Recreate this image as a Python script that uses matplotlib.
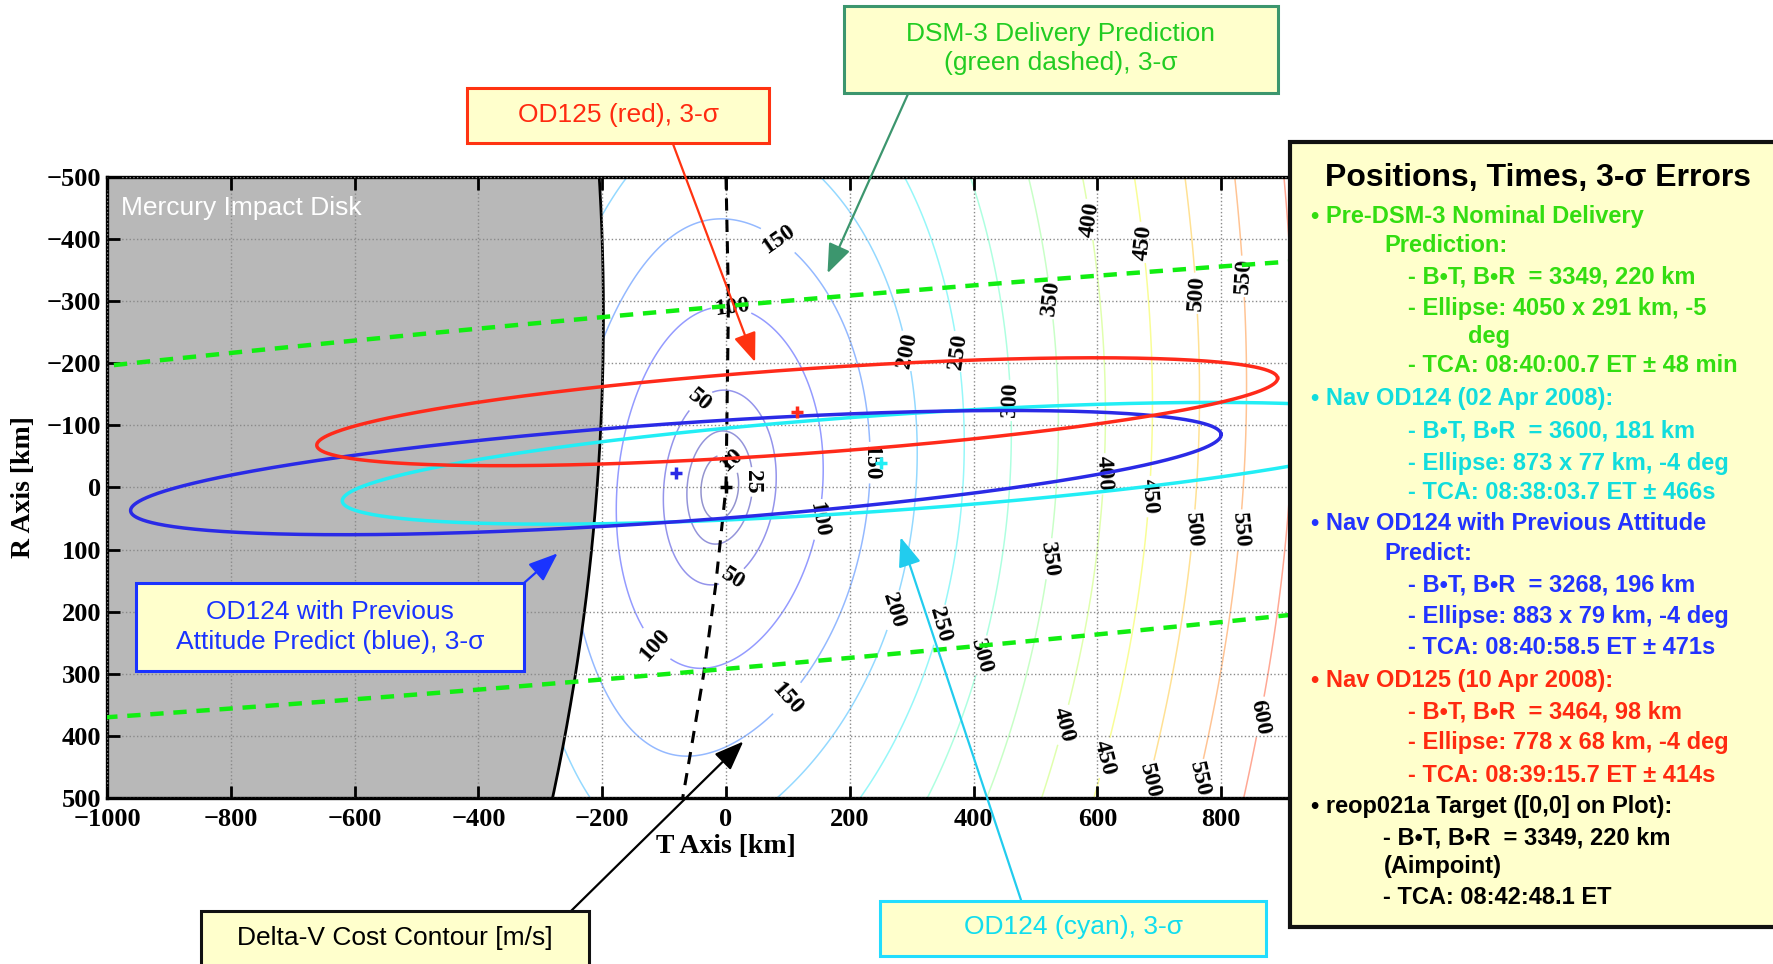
import numpy as np
import matplotlib
matplotlib.use('Agg')
import matplotlib.pyplot as plt
from matplotlib.patches import Rectangle

W, H = 1773, 964

# B-plane aimpoint (reop021a target), plotted at [0,0]
target_bt, target_br = 3349, 220
target_tca = '08:42:48.1'

# orbit solutions: B.T, B.R, 3-sigma ellipse (semi-major, semi-minor, angle), TCA
sol_bt = [3349, 3600, 3268, 3464]
sol_br = [220, 181, 196, 98]
sol_smaa = [4050, 873, 883, 778]
sol_smia = [291, 77, 79, 68]
sol_theta = [-5, -4, -4, -4]
sol_tca = ['08:40:00.7', '08:38:03.7', '08:40:58.5', '08:39:15.7']
sol_tca_err = ['48 min', '466s', '471s', '414s']
sol_line = ['#11ee11', '#22eef5', '#2a2ae6', '#ff2a1a']
sol_text = ['#33dd11', '#11dddd', '#2233ff', '#ff2a10']

# delta-v cost contour levels [m/s]
cost_levels = [10, 25, 50, 100, 150, 200, 250, 300, 350, 400, 450, 500, 550, 600]

# Mercury impact disk in plot coordinates [km]
disk_t, disk_r, disk_radius = -3902, -276, 3704

# dashed line through the cost-contour minimum
dash_r = [-500, -300, 0, 160, 300, 425, 500]
dash_t = [0, 4, 0, -17, -36, -57, -70]

# contour label spots [T, R]
label_spots = [(0, -38), (40, -9), (-40, -138), (8, 142), (9, -291), (147, 51),
               (-128, 265), (86, -401), (232, -40), (99, 340), (287, -219),
               (268, 197), (374, -219), (356, 224), (457, -140), (411, 270),
               (524, -304), (524, 115), (588, -432), (610, -22), (533, 379),
               (676, -395), (689, 15), (606, 434), (762, -313), (758, 69),
               (676, 470), (835, -340), (835, 69), (752, 467), (866, 370)]


def delta_v(T, R):
    # approximate cost surface: sheared elliptical bowl around the aimpoint
    shift = -10 - 0.065 * R - 1.37e-4 * R ** 2 * np.exp(-(T / 300.0) ** 2)
    u = (T - shift) / 1.51
    w = (R / 2.6) / np.sqrt(1 + (R / 1515.0) ** 2)
    return np.hypot(u, w) - 10


def ellipse(tc, rc, a, b, theta, n=3000):
    t = np.linspace(0, 2 * np.pi, n)
    th = np.radians(theta)
    x = tc + a * np.cos(t) * np.cos(th) - b * np.sin(t) * np.sin(th)
    y = rc + a * np.cos(t) * np.sin(th) + b * np.sin(t) * np.cos(th)
    return x, y


def fx(px):
    return px / W


def fy(py):
    return 1 - py / H


plt.rcParams['font.family'] = 'Liberation Serif'
plt.rcParams['font.weight'] = 'bold'
plt.rcParams['axes.labelweight'] = 'bold'

fig = plt.figure(figsize=(W / 100, H / 100), dpi=100)
ax = fig.add_axes([107 / W, 1 - 798 / H, 1238 / W, 621 / H])

# cost contours
tg = np.linspace(-1000, 1000, 500)
rg = np.linspace(-500, 500, 300)
TT, RR = np.meshgrid(tg, rg)
cs = ax.contour(TT, RR, delta_v(TT, RR), levels=cost_levels, cmap='jet',
                vmin=0, vmax=700, linewidths=1.1, alpha=0.42, zorder=1)
labels = ax.clabel(cs, manual=label_spots, inline=True, fmt='%d', fontsize=17,
                   inline_spacing=3, colors='k')
for lab in labels:
    lab.set_alpha(1)

# impact disk
rr = np.linspace(-520, 520, 300)
edge_t = disk_t + np.sqrt(disk_radius ** 2 - (rr - disk_r) ** 2)
ax.fill_betweenx(rr, -1100, edge_t, color='#b8b8b8', zorder=1.5, lw=0)
ax.plot(edge_t, rr, color='k', lw=2, zorder=1.6)

ax.plot(dash_t, dash_r, color='k', lw=2.2, ls=(0, (4, 3)), zorder=3)

# 3-sigma error ellipses
for i in range(len(sol_bt)):
    tc = sol_bt[i] - target_bt
    rc = sol_br[i] - target_br
    ex, ey = ellipse(tc, rc, sol_smaa[i], sol_smia[i], sol_theta[i])
    if i == 0:
        ax.plot(ex, ey, color=sol_line[i], lw=3.2, ls=(0, (3, 2.2)), zorder=4)
    else:
        ax.plot(ex, ey, color=sol_line[i], lw=2.5, zorder=4 + i)
        ax.plot(tc, rc, marker='+', ms=9, mew=2.5, color=sol_line[i], zorder=9)
ax.plot(0, 0, marker='+', ms=9, mew=2.5, color='k', zorder=9)

ax.set_xlim(-1000, 1000)
ax.set_ylim(500, -500)
ax.set_xticks(range(-1000, 1001, 200))
ax.set_yticks(range(-500, 501, 100))
ax.set_axisbelow(False)
ax.grid(True, linestyle=':', color='#8a8a8a', lw=1.0)
ax.tick_params(direction='in', length=9, width=2, top=True, right=True,
               labelsize=19)
ax.tick_params(axis='x', pad=7)
ax.tick_params(axis='y', pad=4)
for sp in ax.spines.values():
    sp.set_linewidth(2.4)
ax.set_xlabel('T Axis [km]', fontsize=20)
ax.set_ylabel('R Axis [km]', fontsize=20)
ax.xaxis.set_label_coords(0.5, -0.058)
ax.yaxis.set_label_coords(-0.057, 0.5)

fig.text(fx(121), fy(208), 'Mercury Impact Disk', color='white', fontsize=19,
         family='Liberation Sans', weight='normal', va='center')


def box(x0, y0, x1, y1, edge, lw=2.2):
    fig.add_artist(Rectangle((fx(x0), fy(y1)), fx(x1) - fx(x0), fy(y0) - fy(y1),
                             transform=fig.transFigure, facecolor='#ffffcc',
                             edgecolor=edge, lw=lw, zorder=5))


def box_text(cx, cy, s, color):
    fig.text(fx(cx), fy(cy), s, ha='center', va='center', color=color,
             fontsize=19, family='Liberation Sans', weight='normal', zorder=6)


def arrow(px, py, t, r, color):
    ax.annotate('', xy=(t, r), xycoords='data', xytext=(fx(px), fy(py)),
                textcoords='figure fraction', annotation_clip=False,
                arrowprops=dict(arrowstyle='-|>,head_length=0.9,head_width=0.35',
                                color=color, lw=1.6, shrinkA=0, shrinkB=0,
                                mutation_scale=20), zorder=10)


# callout boxes
box(467, 88, 769, 143, '#ff3311')
box_text(618, 115, 'OD125 (red), 3-σ', '#ff2a10')
arrow(673, 144, 47, -202, '#ff3311')

box(844, 6, 1278, 93, '#3c966e')
box_text(1061, 34, 'DSM-3 Delivery Prediction', '#22cc22')
box_text(1061, 63, '(green dashed), 3-σ', '#22cc22')
arrow(908, 94, 164, -345, '#3c966e')

box(136, 583, 524, 671, '#1a33ff')
box_text(330, 612, 'OD124 with Previous', '#1a33ff')
box_text(330, 642, 'Attitude Predict (blue), 3-σ', '#1a33ff')
arrow(524, 583, -272, 106, '#1a33ff')

box(201, 911, 589, 975, '#111111')
box_text(395, 938, 'Delta-V Cost Contour [m/s]', 'black')
arrow(571, 911, 28, 409, 'black')

box(880, 901, 1266, 956, '#22ddff')
box_text(1073, 927, 'OD124 (cyan), 3-σ', '#11ddee')
arrow(1021, 900, 282, 80, '#22ccee')

# summary panel
box(1290, 142, 1790, 927, '#111111', lw=3)
fig.text(fx(1538), fy(178), 'Positions, Times, 3-σ Errors', ha='center',
         va='center', fontsize=23, weight='bold', family='Liberation Sans',
         zorder=6)

heads = [['• Pre-DSM-3 Nominal Delivery', 'Prediction:'],
         ['• Nav OD124 (02 Apr 2008):'],
         ['• Nav OD124 with Previous Attitude', 'Predict:'],
         ['• Nav OD125 (10 Apr 2008):']]
rows = []
for i in range(len(sol_bt)):
    rows.append((heads[i][0], 1311, sol_text[i]))
    if len(heads[i]) > 1:
        rows.append((heads[i][1], 1384, sol_text[i]))
    rows.append((f'- B•T, B•R  = {sol_bt[i]}, {sol_br[i]} km', 1408, sol_text[i]))
    if i == 0:
        rows.append((f'- Ellipse: {sol_smaa[i]} x {sol_smia[i]} km, {sol_theta[i]}',
                     1408, sol_text[i]))
        rows.append(('deg', 1468, sol_text[i]))
    else:
        rows.append((f'- Ellipse: {sol_smaa[i]} x {sol_smia[i]} km, {sol_theta[i]} deg',
                     1408, sol_text[i]))
    rows.append((f'- TCA: {sol_tca[i]} ET ± {sol_tca_err[i]}', 1408, sol_text[i]))
rows.append(('• reop021a Target ([0,0] on Plot):', 1311, 'black'))
rows.append((f'- B•T, B•R  = {target_bt}, {target_br} km', 1383, 'black'))
rows.append(('(Aimpoint)', 1384, 'black'))
rows.append((f'- TCA: {target_tca} ET', 1383, 'black'))

row_y = [217, 245, 277, 308, 337, 366, 398, 431, 463, 493, 523, 553, 585,
         617, 648, 680, 712, 743, 775, 807, 838, 867, 897]
for (s, x, c), y in zip(rows, row_y):
    fig.text(fx(x), fy(y), s, ha='left', va='center', color=c, fontsize=17,
             weight='bold', family='Liberation Sans', zorder=6)

fig.savefig('out.png', dpi=100, facecolor='white')
